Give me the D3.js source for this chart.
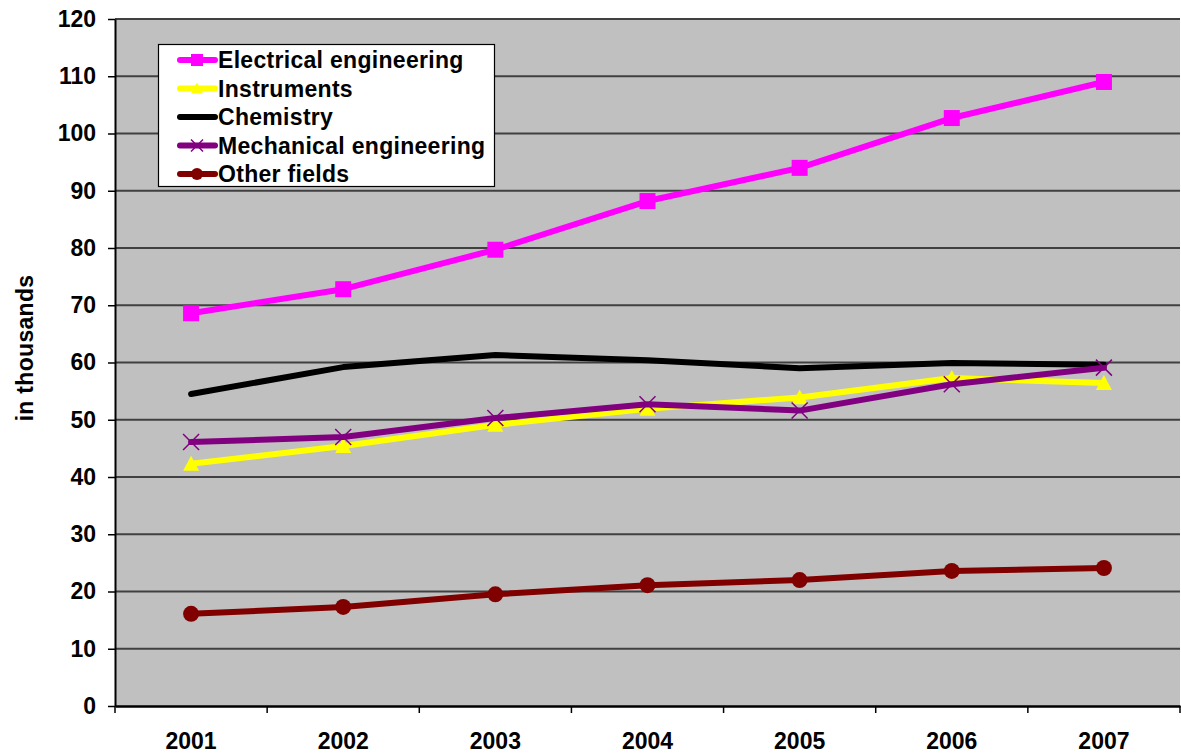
<!DOCTYPE html>
<html><head><meta charset="utf-8">
<script src="https://cdn.jsdelivr.net/npm/d3@7"></script>
<style>
html,body{margin:0;padding:0;background:#fff;}
svg{display:block;font-family:"Liberation Sans",Arial,sans-serif;}
</style></head>
<body><svg id="c" width="1181" height="753"></svg>
<script>
const years = ["2001","2002","2003","2004","2005","2006","2007"];
const yTicks = [0,10,20,30,40,50,60,70,80,90,100,110,120];
const seriesNames = ["Electrical engineering","Instruments","Chemistry","Mechanical engineering","Other fields"];
const electrical = [68.6, 72.8, 79.7, 88.2, 94.0, 102.7, 109.0];
const instruments = [42.3, 45.4, 49.1, 51.9, 53.9, 57.3, 56.4];
const chemistry = [54.5, 59.2, 61.3, 60.4, 59.0, 59.9, 59.6];
const mechanical = [46.1, 47.0, 50.3, 52.7, 51.6, 56.2, 59.1];
const other = [16.1, 17.3, 19.5, 21.1, 22.0, 23.6, 24.1];
const colors = ["#FF00FF","#FFFF00","#000000","#800080","#800000"];
const markers = ["square","triangle","none","x","circle"];
const values = [electrical, instruments, chemistry, mechanical, other];

const svg = d3.select("#c");
const L = 115, R = 1180, T = 19, B = 706;
const x = d3.scaleBand().domain(years).range([L, R]).padding(0);
const y = d3.scaleLinear().domain([0,120]).range([B, T]);

svg.append("rect").attr("x", L).attr("y", T).attr("width", R-L).attr("height", B-T).attr("fill", "#C0C0C0");

svg.append("g").selectAll("line").data(yTicks.filter(d=>d>0)).join("line")
  .attr("x1", L).attr("x2", R).attr("y1", d=>y(d)).attr("y2", d=>y(d))
  .attr("stroke", "#404040").attr("stroke-width", 2);

const yAxis = svg.append("g").attr("transform", `translate(${L},0)`)
  .call(d3.axisLeft(y).tickValues(yTicks).tickSize(7).tickPadding(12).tickSizeOuter(0));
yAxis.select(".domain").attr("stroke", "#000").attr("stroke-width", 2);
yAxis.selectAll(".tick line").attr("stroke", "#000").attr("stroke-width", 1.5);
yAxis.selectAll(".tick text").attr("font-size", 23).attr("font-weight", "bold").attr("fill", "#000")
  .attr("font-family", "Liberation Sans, Arial, sans-serif");

const xAxis = svg.append("g").attr("transform", `translate(0,${B})`)
  .call(d3.axisBottom(x).tickSize(0).tickPadding(27).tickSizeOuter(0));
xAxis.select(".domain").attr("stroke", "#000").attr("stroke-width", 2.5);
xAxis.selectAll(".tick text").attr("font-size", 23).attr("font-weight", "bold").attr("fill", "#000")
  .attr("font-family", "Liberation Sans, Arial, sans-serif");
const bounds = years.map(d => x(d)).concat([R]);
svg.append("g").selectAll("line").data(bounds).join("line")
  .attr("x1", d=>d).attr("x2", d=>d).attr("y1", B).attr("y2", B+7)
  .attr("stroke", "#000").attr("stroke-width", 1.5);

svg.append("text").attr("transform", `translate(33,348) rotate(-90)`)
  .attr("text-anchor", "middle").attr("font-size", 23).attr("font-weight", "bold")
  .attr("letter-spacing", "0.3px").text("in thousands");

function drawMarker(g, type, cx, cy, color, s) {
  if (type === "square") {
    g.append("rect").attr("x", cx - s).attr("y", cy - s).attr("width", 2*s).attr("height", 2*s).attr("fill", color);
  } else if (type === "triangle") {
    g.append("path").attr("d", `M${cx},${cy - s} L${cx + s},${cy + s*0.85} L${cx - s},${cy + s*0.85} Z`).attr("fill", color);
  } else if (type === "circle") {
    g.append("circle").attr("cx", cx).attr("cy", cy).attr("r", s).attr("fill", color);
  } else if (type === "x") {
    g.append("path").attr("d", `M${cx - s},${cy - s} L${cx + s},${cy + s} M${cx - s},${cy + s} L${cx + s},${cy - s}`)
      .attr("stroke", color).attr("stroke-width", 1.5).attr("fill", "none");
  }
}

const line = d3.line().x((d,i)=>x(years[i]) + x.bandwidth()/2).y(d=>y(d));
values.forEach((vals, si) => {
  const g = svg.append("g");
  g.append("path").datum(vals).attr("d", line).attr("fill", "none")
    .attr("stroke", colors[si]).attr("stroke-width", 6).attr("stroke-linejoin", "round").attr("stroke-linecap", "round");
  vals.forEach((v, i) => drawMarker(g, markers[si], x(years[i]) + x.bandwidth()/2, y(v), colors[si], 8));
});

const lg = svg.append("g");
lg.append("rect").attr("x", 158.5).attr("y", 44.5).attr("width", 336).attr("height", 142)
  .attr("fill", "#fff").attr("stroke", "#000").attr("stroke-width", 1.2);
const rowY = d3.scalePoint().domain(seriesNames).range([60, 174]);
seriesNames.forEach((name, si) => {
  const cy = rowY(name);
  lg.append("line").attr("x1", 180).attr("x2", 215).attr("y1", cy).attr("y2", cy)
    .attr("stroke", colors[si]).attr("stroke-width", 6).attr("stroke-linecap", "round");
  drawMarker(lg, markers[si], 197, cy, colors[si], 6);
  lg.append("text").attr("x", 218).attr("y", cy + 8).attr("font-size", 23).attr("font-weight", "bold")
    .attr("letter-spacing", "0.3px").text(name);
});
</script></body></html>
